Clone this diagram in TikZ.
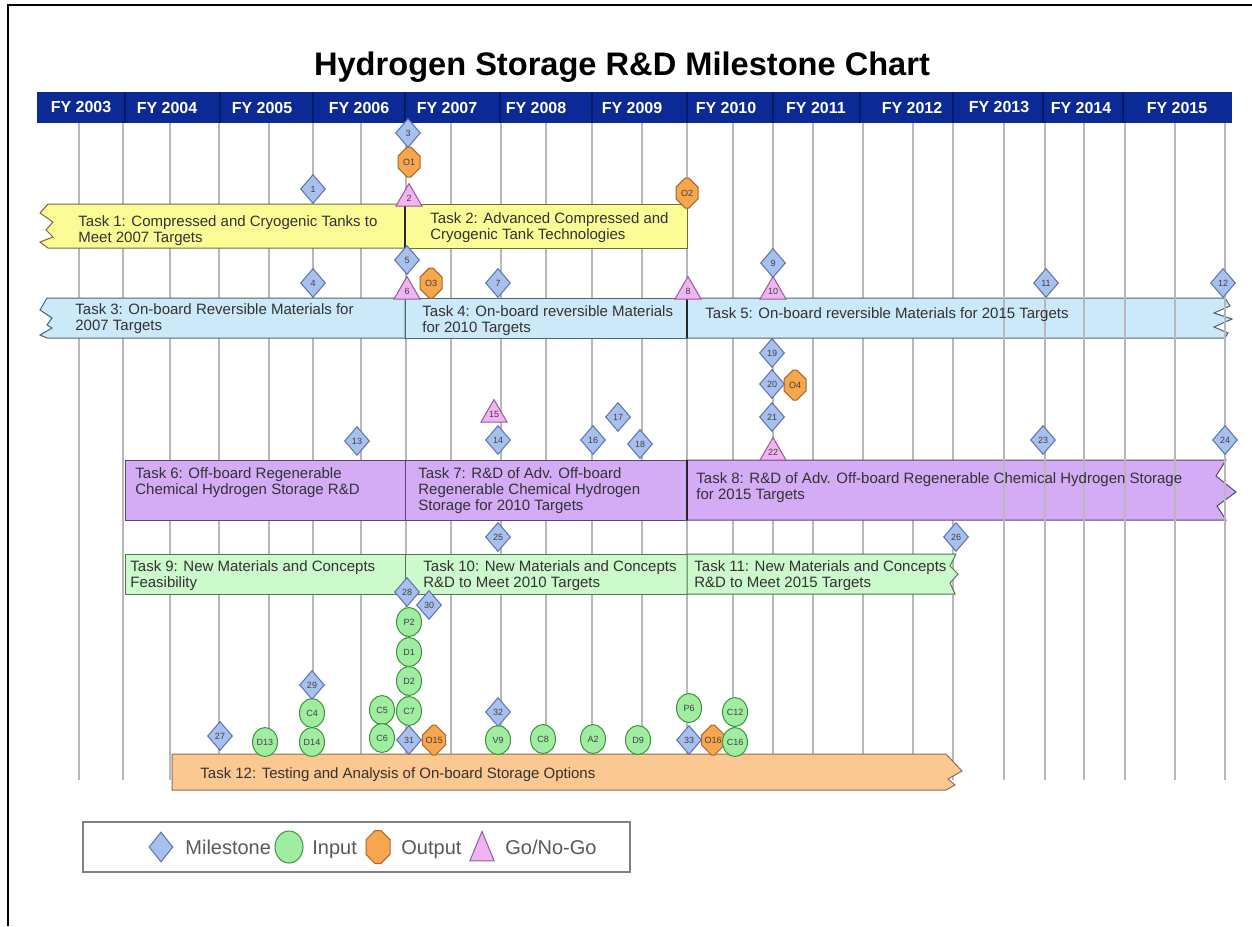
\documentclass[tikz,border=0pt]{standalone}
\usepackage{fontspec}
\setmainfont{Liberation Sans}
\usetikzlibrary{shapes.geometric,shapes.misc}
\definecolor{hdr}{RGB}{12,42,150}
\definecolor{hdrdiv}{RGB}{5,25,100}
\definecolor{yfill}{RGB}{252,252,150}
\definecolor{ybord}{RGB}{110,110,60}
\definecolor{bfill}{RGB}{204,233,250}
\definecolor{bbord}{RGB}{80,100,115}
\definecolor{pfill}{RGB}{212,172,246}
\definecolor{pbord}{RGB}{90,70,110}
\definecolor{gfill}{RGB}{204,250,204}
\definecolor{gbord}{RGB}{80,120,80}
\definecolor{ofill}{RGB}{252,200,146}
\definecolor{obord}{RGB}{140,110,80}
\definecolor{msfill}{RGB}{168,192,238}
\definecolor{msbord}{RGB}{90,115,170}
\definecolor{infill}{RGB}{160,236,160}
\definecolor{inbord}{RGB}{60,150,60}
\definecolor{oufill}{RGB}{246,166,76}
\definecolor{oubord}{RGB}{170,100,40}
\definecolor{gofill}{RGB}{240,180,240}
\definecolor{gobord}{RGB}{150,90,160}
\definecolor{txt}{RGB}{50,50,50}
\begin{document}
\begin{tikzpicture}[x=0.5pt,y=-0.5pt,
  mk/.style={inner sep=0pt, font=\fontsize{4.5}{5}\selectfont, text=black!75, line width=0.5pt},
  ms/.style={mk, diamond, minimum width=12.5pt, minimum height=14.5pt, fill=msfill, draw=msbord},
  inp/.style={mk, ellipse, minimum width=12.5pt, minimum height=14.5pt, fill=infill, draw=inbord},
  outp/.style={mk, chamfered rectangle, chamfered rectangle xsep=2.5pt, minimum width=11pt, minimum height=15pt, fill=oufill, draw=oubord},
  gng/.style={mk, regular polygon, regular polygon sides=3, minimum size=15pt, fill=gofill, draw=gobord},
  tasktxt/.style={anchor=north west, inner sep=0pt, align=left, font=\fontsize{7.5}{8}\selectfont, text=txt},
  yr/.style={font=\bfseries\fontsize{8}{9}\selectfont, text=white, inner sep=0pt},
  gline/.style={draw=black!28, line width=0.75pt},
  bar/.style={line width=0.5pt},
  divline/.style={draw=black!85, line width=0.9pt},
  legtxt/.style={anchor=base west, inner sep=0pt, font=\fontsize{10}{12}\selectfont, text=black!65}
]
\useasboundingbox (0,0) rectangle (1252,926);
\fill[white] (0,0) rectangle (1252,926);
% frame
\draw[line width=0.75pt] (8,926) -- (8,5) -- (1252,5);
% title
\node[font=\bfseries\fontsize{16.3}{18}\selectfont, inner sep=0pt] (title) at (622,67) {Hydrogen Storage R\&D Milestone Chart};
% header
\fill[hdr] (37,92) rectangle (1232,123);
\foreach \x in {125,220,313,405,500,592,687,773,860,953,1043,1123}
  \draw[hdrdiv, line width=0.6pt] (\x,92) -- (\x,123);
\node[yr] (fy03) at (81,107.5) {FY 2003};
\node[yr] (fy04) at (167,107.5) {FY 2004};
\node[yr] (fy05) at (262,107.5) {FY 2005};
\node[yr] (fy06) at (359,107.5) {FY 2006};
\node[yr] (fy07) at (447,107.5) {FY 2007};
\node[yr] (fy08) at (536,107.5) {FY 2008};
\node[yr] (fy09) at (632,107.5) {FY 2009};
\node[yr] (fy10) at (726,107.5) {FY 2010};
\node[yr] (fy11) at (816,107.5) {FY 2011};
\node[yr] (fy12) at (912,107.5) {FY 2012};
\node[yr] (fy13) at (999,107.5) {FY 2013};
\node[yr] (fy14) at (1081,107.5) {FY 2014};
\node[yr] (fy15) at (1177,107.5) {FY 2015};
% grid lines behind bars
\foreach \x in {79,123,170,219,269,313,361,406,451,501,546,592,642,687,733,773,813,863,913,953}
  \draw[gline] (\x,123) -- (\x,780);
% row 1 yellow
\path[bar, draw=ybord, fill=yfill] (48,204) -- (405,204) -- (405,248) -- (48,248) -- (40,242) -- (53,237) -- (46,230) -- (53,222) -- (40,213) -- cycle;
\path[bar, draw=ybord, fill=yfill] (405,204) rectangle (687,248);
\draw[divline] (405,204) -- (405,248);
% row 2 blue
\path[bar, draw=bbord, fill=bfill] (47,298) -- (405,298) -- (405,338) -- (47,338) -- (40,335) -- (52,328) -- (47,325) -- (52,318) -- (40,310) -- cycle;
\path[bar, draw=bbord, fill=bfill] (405,298) rectangle (687,338);
\path[bar, draw=bbord, fill=bfill] (687,298) -- (1225,298) -- (1230,306) -- (1214,313) -- (1232,319) -- (1214,327) -- (1228,333) -- (1225,338) -- (687,338) -- cycle;
\draw[divline] (687,298) -- (687,338);
% row 3 purple
\path[bar, draw=pbord, fill=pfill] (125,460) rectangle (405,520);
\path[bar, draw=pbord, fill=pfill] (405,460) rectangle (687,520);
\path[bar, draw=pbord, fill=pfill] (687,460) -- (1226,460) -- (1216,476) -- (1236,492) -- (1217,506) -- (1226,520) -- (687,520) -- cycle;
\draw[divline] (687,460) -- (687,520);
% row 4 green
\path[bar, draw=gbord, fill=gfill] (125,554) rectangle (405,594);
\path[bar, draw=gbord, fill=gfill] (405,554) rectangle (687,594);
\path[bar, draw=gbord, fill=gfill] (687,554) -- (956,554) -- (950,566) -- (958,574) -- (950,583) -- (955,594) -- (687,594) -- cycle;
% row 5 orange
\path[bar, draw=obord, fill=ofill] (172,754) -- (946,754) -- (962,771) -- (948,779) -- (955,785) -- (946,790) -- (172,790) -- cycle;
% grid lines over bars
\foreach \x in {1004,1045,1084,1125,1175,1225}
  \draw[gline] (\x,123) -- (\x,780);
% task texts
\node[tasktxt] (t1) at (78,215) {Task 1: Compressed and Cryogenic Tanks to\\Meet 2007 Targets};
\node[tasktxt] (t2) at (430,212) {Task 2: Advanced Compressed and\\Cryogenic Tank Technologies};
\node[tasktxt] (t3) at (75,303) {Task 3: On-board Reversible Materials for\\2007 Targets};
\node[tasktxt] (t4) at (422,305) {Task 4: On-board reversible Materials\\for 2010 Targets};
\node[tasktxt] (t5) at (705,307) {Task 5: On-board reversible Materials for 2015 Targets};
\node[tasktxt] (t6) at (135,467) {Task 6: Off-board Regenerable\\Chemical Hydrogen Storage R\&D};
\node[tasktxt] (t7) at (418,467) {Task 7: R\&D of Adv. Off-board\\Regenerable Chemical Hydrogen\\Storage for 2010 Targets};
\node[tasktxt] (t8) at (696,472) {Task 8: R\&D of Adv. Off-board Regenerable Chemical Hydrogen Storage\\for 2015 Targets};
\node[tasktxt] (t9) at (130,560) {Task 9: New Materials and Concepts\\Feasibility};
\node[tasktxt] (t10) at (423,560) {Task 10: New Materials and Concepts\\R\&D to Meet 2010 Targets};
\node[tasktxt] (t11) at (694,560) {Task 11: New Materials and Concepts\\R\&D to Meet 2015 Targets};
\node[tasktxt] (t12) at (200,767) {Task 12: Testing and Analysis of On-board Storage Options};
% outputs
\node[outp] (o1) at (409,162) {O1};
\node[outp] (o2) at (687,193) {O2};
\node[outp] (o3) at (431,283) {O3};
\node[outp] (o4) at (795,385) {O4};
\node[outp] (o15) at (434,740) {O15};
\node[outp] (o16) at (713,740) {O16};
% go/no-go
\node[gng] (g2) at (409,198.5) {2};
\node[gng] (g6) at (407,291.5) {6};
\node[gng] (g8) at (688,291.5) {8};
\node[gng] (g10) at (773,291.5) {10};
\node[gng] (g15) at (494,414.5) {15};
\node[gng] (g22) at (773,452.5) {22};
% milestones
\node[ms] (m1) at (313,189) {1};
\node[ms] (m3) at (408,133) {3};
\node[ms] (m4) at (313,283) {4};
\node[ms] (m5) at (407,260) {5};
\node[ms] (m7) at (498,283) {7};
\node[ms] (m9) at (773,263) {9};
\node[ms] (m11) at (1046,283) {11};
\node[ms] (m12) at (1223,283) {12};
\node[ms] (m13) at (357,441) {13};
\node[ms] (m14) at (498,440) {14};
\node[ms] (m16) at (593,440) {16};
\node[ms] (m17) at (618,417) {17};
\node[ms] (m18) at (640,444) {18};
\node[ms] (m19) at (772,353) {19};
\node[ms] (m20) at (772,384) {20};
\node[ms] (m21) at (772,417) {21};
\node[ms] (m23) at (1043,440) {23};
\node[ms] (m24) at (1225,440) {24};
\node[ms] (m25) at (498,537) {25};
\node[ms] (m26) at (956,537) {26};
% inputs
\node[inp] (iP2) at (409,622) {P2};
\node[inp] (iD1) at (409,652) {D1};
\node[inp] (iD2) at (409,681) {D2};
\node[inp] (iC7) at (409,711) {C7};
\node[inp] (iC5) at (382,710) {C5};
\node[inp] (iC6) at (382,738) {C6};
\node[inp] (iC4) at (312,713) {C4};
\node[inp] (iD14) at (312,742) {D14};
\node[inp] (iD13) at (265,742) {D13};
\node[inp] (iV9) at (498,740) {V9};
\node[inp] (iC8) at (543,739) {C8};
\node[inp] (iA2) at (593,739) {A2};
\node[inp] (iD9) at (638,740) {D9};
\node[inp] (iP6) at (689,708) {P6};
\node[inp] (iC12) at (735,712) {C12};
\node[inp] (iC16) at (735,742) {C16};
\node[ms] (m27) at (220,736) {27};
\node[ms] (m28) at (407,592) {28};
\node[ms] (m29) at (312,685) {29};
\node[ms] (m30) at (429,605) {30};
\node[ms] (m31) at (409,740) {31};
\node[ms] (m32) at (498,712) {32};
\node[ms] (m33) at (689,740) {33};
% legend
\node[draw=black!50, line width=0.75pt, fill=white, minimum width=273.5pt, minimum height=25pt, inner sep=0pt] (legend) at (356.5,847) {};
\node[ms, minimum width=12pt, minimum height=15pt] (lms) at (161,847) {};
\node[legtxt] (lmstxt) at (185,854) {Milestone};
\node[inp, minimum width=14pt, minimum height=16pt] (lin) at (289,847) {};
\node[legtxt] (lintxt) at (312,854) {Input};
\node[outp, minimum width=12pt, minimum height=16.5pt] (lout) at (378,847) {\phantom{O1}};
\node[legtxt] (louttxt) at (401,854) {Output};
\node[gng, minimum size=14pt, transform shape, yscale=1.4] (lgo) at (482,851) {};
\node[legtxt] (lgotxt) at (505,854) {Go/No-Go};
\end{tikzpicture}
\end{document}
